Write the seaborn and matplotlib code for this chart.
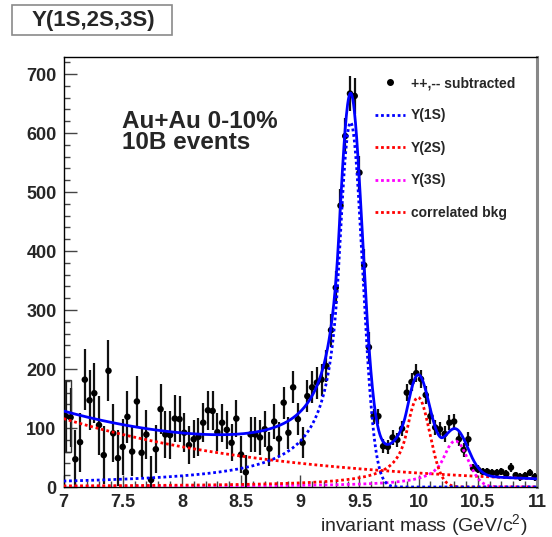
import numpy as np
import pandas as pd
import matplotlib
matplotlib.use("Agg")
import matplotlib.pyplot as plt
import seaborn as sns
from matplotlib.patches import Rectangle
from matplotlib.lines import Line2D
from matplotlib.ticker import MultipleLocator, FuncFormatter

# ---------------------------------------------------------------- data
# like-sign subtracted dielectron counts, 0.04 GeV/c^2 bins from 7 to 11
bin_lo = 7.0
bin_width = 0.04
counts = [
    120, 118, 47, 76, 182, 147, 159, 105, 54, 197, 91, 49, 68,
    119, 60, 145, 58, 89, 12, 64, 132, 89, 88, 116, 115,
    92, 71, 81, 85, 109, 130, 129, 93, 109, 97, 75, 116, 55, 25, 89, 89,
    84, 98, 65, 111, 82,
    143, 92, 169, 115, 75, 154, 169, 177, 182, 205, 266,
    338, 477, 595, 667, 663, 533, 376, 237,
    120, 120, 69, 68, 84, 80, 99, 160, 178, 193, 183, 156, 120, 101, 98,
    90, 109, 111, 81, 63, 81,
    32, 30, 26, 26, 24, 24, 26, 22, 33, 20, 17, 19, 24, 17,
]
errors = [
    61, 50, 49, 50, 52, 51, 51, 50, 49, 52, 49, 48, 48,
    44, 42, 43, 41, 42, 40, 41, 42, 40, 40, 40, 39,
    33, 32, 32, 32, 33, 33, 33, 32, 32, 32, 31, 31, 32, 30, 30, 30,
    30, 30, 29, 30, 29,
    27, 27, 27, 27, 26, 27, 27, 27, 27, 27, 28,
    28, 29, 30, 30, 30, 29, 28, 26,
    13, 13, 12, 12, 12, 12, 13, 14, 15, 15, 15, 15, 14, 13, 13,
    13, 13, 13, 12, 12, 12,
    7, 7, 6, 6, 6, 6, 6, 6, 7, 6, 6, 6, 6, 6,
]

# fit components: Crystal-Ball lines (norm, mean, sigma, alpha, n)
ups1s_par = [618.0, 9.425, 0.100, 1.0, 1.2]
ups2s_par = [152.0, 9.995, 0.098, 1.0, 1.2]
ups3s_par = [78.0, 10.310, 0.105, 1.0, 1.2]
# correlated background: norm * exp(-slope * (m - 7))
bkg_par = [116.0, 0.53]

legend_labels = ["++,-- subtracted", "\u03a5(1S)", "\u03a5(2S)", "\u03a5(3S)", "correlated bkg"]


def crystal_ball(x, norm, mean, sigma, alpha, n):
    t = (x - mean) / sigma
    a = abs(alpha)
    A = (n / a) ** n * np.exp(-a * a / 2.0)
    B = n / a - a
    core = np.exp(-0.5 * t * t)
    tail = A * np.power(np.clip(B - t, 1e-9, None), -n)
    return norm * np.where(t > -a, core, tail)


def corr_bkg(x, norm, slope):
    return norm * np.exp(-slope * (x - 7.0))


# ---------------------------------------------------------------- style
sns.set_style("ticks")
plt.rcParams["font.family"] = ["Liberation Sans", "DejaVu Sans"]
plt.rcParams["mathtext.fontset"] = "custom"
plt.rcParams["mathtext.rm"] = "Liberation Sans"
plt.rcParams["mathtext.it"] = "Liberation Sans:italic"
plt.rcParams["mathtext.bf"] = "Liberation Sans:bold"

W, H = 552, 537
fig = plt.figure(figsize=(W / 100, H / 100), dpi=100)
ax = fig.add_axes([63.5 / W, (H - 487) / H, (537 - 63.5) / W, (487 - 57) / H])

centers = bin_lo + bin_width * (np.arange(len(counts)) + 0.5)
data = pd.DataFrame({"mass": centers, "counts": counts, "err": errors})

# data points with statistical errors
ax.errorbar(data["mass"], data["counts"], yerr=data["err"], fmt="none",
            ecolor="#111111", elinewidth=1.6, capsize=0, zorder=2)
sns.scatterplot(data=data, x="mass", y="counts", ax=ax, color="black",
                s=22, edgecolor="none", zorder=3, legend=False)
# first bin drawn as an open box
ax.add_patch(Rectangle((bin_lo + 0.4 * bin_width, counts[0] - errors[0]),
                       1.2 * bin_width, 2 * errors[0], fill=False,
                       edgecolor="#333333", lw=1.0, zorder=2))

# fit curves
m = np.linspace(7.0, 11.0, 1201)
c1 = crystal_ball(m, *ups1s_par)
c2 = crystal_ball(m, *ups2s_par)
c3 = crystal_ball(m, *ups3s_par)
cb = corr_bkg(m, *bkg_par)
total = c1 + c2 + c3 + cb
curves = pd.DataFrame({"mass": m, "u1": c1, "u2": c2, "u3": c3, "bkg": cb, "total": total})

dot = (0, (1.0, 1.0))
for col, colour in [("bkg", "#ff0000"), ("u3", "#ff00ff"), ("u2", "#ff0000"), ("u1", "#0000ff")]:
    sns.lineplot(data=curves, x="mass", y=col, ax=ax, color=colour,
                 linestyle=dot, lw=2.0, zorder=4, estimator=None, sort=False)
sns.lineplot(data=curves, x="mass", y="total", ax=ax, color="#0000ff",
             lw=2.0, zorder=5, estimator=None, sort=False)

# axes
ax.set_xlim(7.0, 11.0)
ax.set_ylim(0, 729)
ax.xaxis.set_major_locator(MultipleLocator(0.5))
ax.xaxis.set_minor_locator(MultipleLocator(0.1))
ax.yaxis.set_major_locator(MultipleLocator(100))
ax.yaxis.set_minor_locator(MultipleLocator(20))
ax.xaxis.set_major_formatter(FuncFormatter(lambda v, p: f"{v:g}"))
ax.tick_params(axis="both", which="major", direction="in", length=9,
               width=1.0, color="#444444", labelsize=13, pad=5)
ax.tick_params(axis="both", which="minor", direction="in", length=4.5,
               width=1.0, color="#444444")
ax.tick_params(axis="x", which="major", pad=5)
for lab in ax.get_xticklabels() + ax.get_yticklabels():
    lab.set_fontweight("bold")
ax.set_xlabel("")
ax.set_ylabel("")
for side in ["left", "bottom", "top"]:
    ax.spines[side].set_color("black")
    ax.spines[side].set_linewidth(1.0)
ax.spines["right"].set_color("#888888")
ax.spines["right"].set_linewidth(2.2)

fig.text(527 / W, 1 - 531 / H, "invariant mass (GeV/c$^{2}$)", ha="right",
         va="baseline", fontsize=14)

# annotation
fig.text(122 / W, 1 - 127.5 / H, "Au+Au 0-10%", fontsize=17.5, fontweight="bold",
         va="baseline", ha="left")
fig.text(122 / W, 1 - 149 / H, "10B events", fontsize=17.5, fontweight="bold",
         va="baseline", ha="left")

# title box
fig.patches.append(Rectangle((12 / W, 1 - 35 / H), 160 / W, 30 / H,
                             transform=fig.transFigure, facecolor="white",
                             edgecolor="#8a8a8a", lw=1.2))
fig.text(93 / W, 1 - 20.5 / H, "\u03a5(1S,2S,3S)", ha="center", va="center",
         fontsize=16, fontweight="bold")

# legend
handles = [
    Line2D([], [], color="black", marker="o", ls="none", ms=4),
    Line2D([], [], color="#0000ff", ls=dot, lw=2.0),
    Line2D([], [], color="#ff0000", ls=dot, lw=2.0),
    Line2D([], [], color="#ff00ff", ls=dot, lw=2.0),
    Line2D([], [], color="#ff0000", ls=dot, lw=2.0),
]
leg = ax.legend(handles, legend_labels, loc="upper left",
                bbox_to_anchor=(375 / W, 1 - 76 / H), bbox_transform=fig.transFigure,
                frameon=False, borderpad=0, borderaxespad=0, handlelength=2.15,
                handletextpad=0.45, labelspacing=1.33,
                prop={"size": 10, "weight": "bold"})

fig.savefig("out.png", dpi=100)
